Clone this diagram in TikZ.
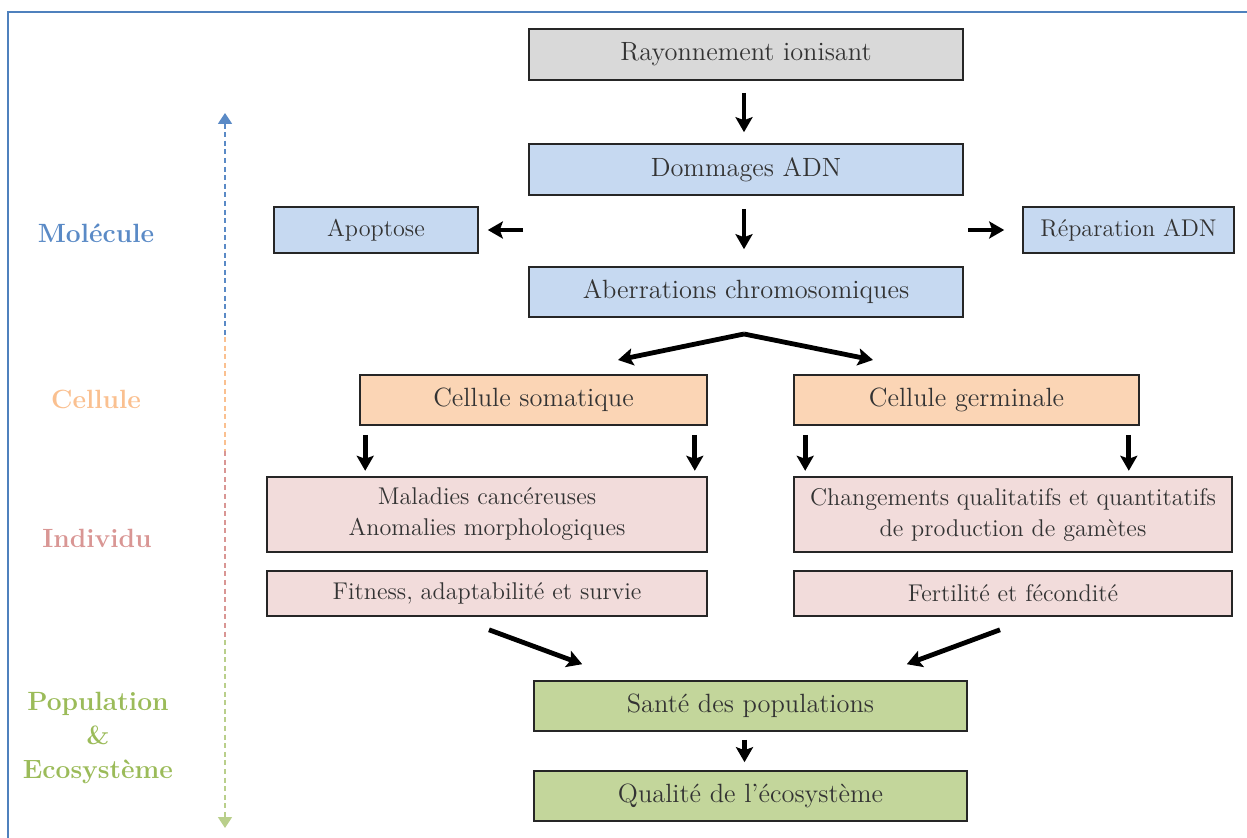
\documentclass[tikz,border=0pt]{standalone}
\usetikzlibrary{arrows.meta,calc}
\definecolor{cadre}{HTML}{4F81BD}
\definecolor{molc}{HTML}{5A8AC6}
\definecolor{celc}{HTML}{FAC090}
\definecolor{indc}{HTML}{D99694}
\definecolor{popc}{HTML}{9BBB59}
\definecolor{fgris}{HTML}{D9D9D9}
\definecolor{fbleu}{HTML}{C6D9F1}
\definecolor{fpeche}{HTML}{FBD5B5}
\definecolor{frose}{HTML}{F2DCDB}
\definecolor{fvert}{HTML}{C3D69B}
\begin{document}
\begin{tikzpicture}[x=0.5pt,y=-0.5pt, >={Stealth[length=7.5pt,width=8.5pt,inset=1.5pt]},
  box/.style={draw=black!85, line width=0.8pt, text=black!80, align=center, inner sep=0pt,
    font=\fontsize{13.2}{15.5}\selectfont},
  petit/.style={font=\fontsize{12.1}{15.5}\selectfont},
  arr/.style={->, line width=2.4pt},
  lvl/.style={font=\fontsize{13.2}{16.8}\selectfont\bfseries, align=center},
  axe/.style={dash pattern=on 2.5pt off 1.8pt, line width=0.9pt}]
\useasboundingbox (0,0) rectangle (1247,838);
\draw[cadre, line width=0.8pt] (8,838)--(8,12)--(1247,12);

% chaine principale
\node[box, fill=fgris, minimum width=217pt, minimum height=25.5pt] (ray) at (746,54.5) {Rayonnement ionisant};
\node[box, fill=fbleu, minimum width=217pt, minimum height=25.5pt] (dom) at (746,169.5) {Dommages ADN};
\node[box, petit, fill=fbleu, minimum width=102pt, minimum height=23pt] (apo) at (376,230) {Apoptose};
\node[box, petit, fill=fbleu, minimum width=105.5pt, minimum height=23pt] (rep) at (1128.5,230) {R\'eparation ADN};
\node[box, fill=fbleu, minimum width=217pt, minimum height=25pt] (abe) at (746,292) {Aberrations chromosomiques};
\node[box, fill=fpeche, minimum width=173.5pt, minimum height=25pt] (som) at (533.5,400) {Cellule somatique};
\node[box, fill=fpeche, minimum width=172.5pt, minimum height=25pt] (ger) at (966.5,400) {Cellule germinale};
\node[box, petit, fill=frose, minimum width=220pt, minimum height=37.5pt] (mal) at (487,514.5) {Maladies canc\'ereuses\\Anomalies morphologiques};
\node[box, petit, fill=frose, minimum width=219pt, minimum height=37.5pt] (cha) at (1013,514.5) {Changements qualitatifs et quantitatifs\\de production de gam\`etes};
\node[box, petit, fill=frose, minimum width=220pt, minimum height=22.5pt] (fit) at (487,593.5) {Fitness, adaptabilit\'e et survie};
\node[box, petit, fill=frose, minimum width=219pt, minimum height=22.5pt] (fer) at (1013,593.5) {Fertilit\'e et f\'econdit\'e};
\node[box, fill=fvert, minimum width=216.5pt, minimum height=25pt] (san) at (750.5,706) {Sant\'e des populations};
\node[box, fill=fvert, minimum width=216.5pt, minimum height=25pt] (qua) at (750.5,796) {Qualit\'e de l'\'ecosyst\`eme};

% fleches
\draw[arr, shorten <=6pt, shorten >=5.5pt] ([xshift=-1pt]ray.south) -- ([xshift=-1pt]dom.north);
\draw[arr, shorten <=6.5pt, shorten >=8.5pt] ([xshift=-1pt]dom.south) -- ([xshift=-1pt]abe.north);
\coordinate (apoS) at (523,230);
\coordinate (repS) at (968,230);
\draw[arr, shorten >=4.5pt] (apoS) -- (apo);
\draw[arr, shorten >=9pt] (repS) -- (rep);
\coordinate (fork) at (744,334);
\coordinate (somT) at (618,360);
\coordinate (gerT) at (873,360);
\draw[arr] (fork) -- (somT);
\draw[arr] (fork) -- (gerT);
\draw[arr] ([xshift=3pt,yshift=-4.5pt]som.south west) -- ([xshift=3pt,yshift=-22.5pt]som.south west);
\draw[arr] ([xshift=-6.5pt,yshift=-4.5pt]som.south east) -- ([xshift=-6.5pt,yshift=-22.5pt]som.south east);
\draw[arr] ([xshift=6pt,yshift=-4.5pt]ger.south west) -- ([xshift=6pt,yshift=-22.5pt]ger.south west);
\draw[arr] ([xshift=-5.5pt,yshift=-4.5pt]ger.south east) -- ([xshift=-5.5pt,yshift=-22.5pt]ger.south east);
\draw[arr] ([xshift=1pt,yshift=-6.5pt]fit.south) -- ([xshift=24.5pt,yshift=8pt]san.north west);
\draw[arr] ([xshift=-6.5pt,yshift=-6.5pt]fer.south) -- ([xshift=-30.5pt,yshift=8pt]san.north east);
\draw[arr, shorten <=4pt, shorten >=4pt] ([xshift=-3pt]san.south) -- ([xshift=-3pt]qua.north);

% axe des niveaux
\coordinate (axT) at (225,113);
\coordinate (axB) at (225,828);
\draw[axe, molc, {Triangle[length=5.5pt,width=7pt]}-] (axT) -- (225,337);
\draw[axe, celc] (225,337) -- (225,451);
\draw[axe, indc] (225,451) -- (225,640);
\draw[axe, popc!70, -{Triangle[length=5.5pt,width=7pt]}] (225,640) -- (axB);

\node[lvl, molc] (mol) at (96,233) {Mol\'ecule};
\node[lvl, celc] (cel) at (96,399) {Cellule};
\node[lvl, indc] (ind) at (97,538) {Individu};
\node[lvl, popc] (pop) at (98,738) {Population\\\&\\Ecosyst\`eme};
\end{tikzpicture}
\end{document}
